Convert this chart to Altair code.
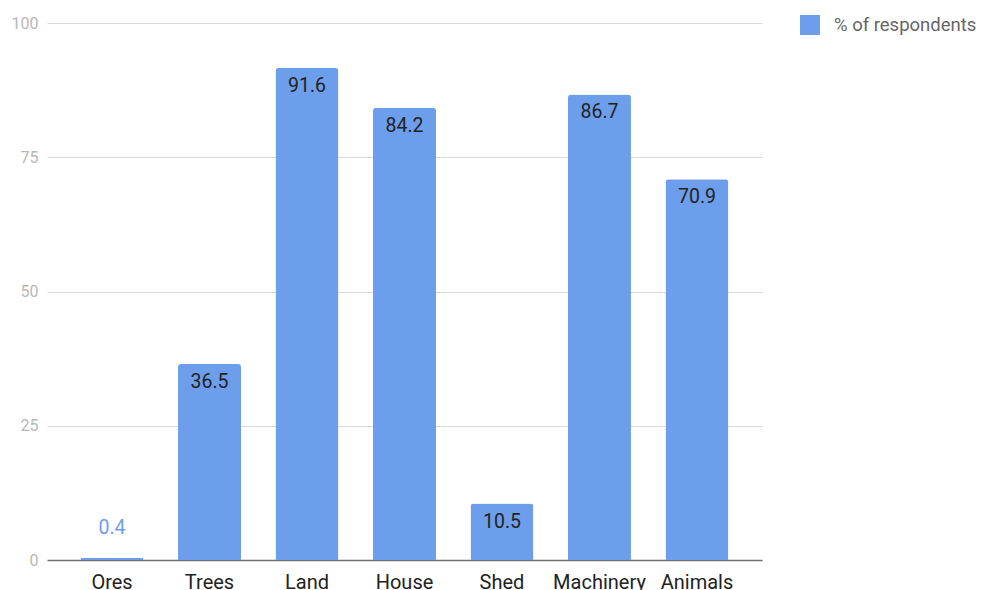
import altair as alt
import pandas as pd

# Share of respondents per item
categories = ["Ores", "Trees", "Land", "House", "Shed", "Machinery", "Animals"]
values = [0.4, 36.5, 91.6, 84.2, 10.5, 86.7, 70.9]
series_name = "% of respondents"
y_ticks = [0, 25, 50, 75, 100]

BLUE = "#6d9eeb"
FONT = "Roboto"

df = pd.DataFrame({"item": categories, "value": values, "series": series_name})

x_enc = alt.X(
    "item:N",
    sort=categories,
    title=None,
    scale=alt.Scale(paddingInner=0.354, paddingOuter=0.344),
    axis=alt.Axis(
        labelAngle=0,
        labelFontSize=20,
        labelColor="#222222",
        labelFont=FONT,
        labelPadding=12,
        ticks=False,
        domainColor="#707070",
        domainWidth=1.6,
        grid=False,
    ),
)
y_enc = alt.Y(
    "value:Q",
    title=None,
    scale=alt.Scale(domain=[0, 100], nice=False),
    axis=alt.Axis(
        values=y_ticks,
        labelFontSize=16,
        labelColor="#b7b7b7",
        labelFont=FONT,
        labelPadding=9,
        ticks=False,
        domain=False,
        gridColor="#d9d9d9",
        gridWidth=1.2,
    ),
)

base = alt.Chart(df)

bars = base.mark_bar(cornerRadiusTopLeft=3, cornerRadiusTopRight=3).encode(
    x=x_enc,
    y=y_enc,
    color=alt.Color(
        "series:N",
        scale=alt.Scale(domain=[series_name], range=[BLUE]),
        legend=alt.Legend(
            title=None,
            orient="none",
            legendX=753,
            legendY=-8,
            padding=0,
            symbolType="square",
            symbolSize=400,
            symbolStrokeWidth=0,
            symbolOpacity=1,
            labelFont=FONT,
            labelFontSize=18.5,
            labelColor="#666666",
            labelOffset=14,
        ),
    ),
)

# Labels inside the taller bars
inside = base.transform_filter("datum.value >= 5").mark_text(
    baseline="middle", dy=18, fontSize=19.5, font=FONT, color="#222222"
).encode(
    x=alt.X("item:N", sort=categories),
    y="value:Q",
    text=alt.Text("value:Q", format=".1f"),
)

# Labels above bars too short to hold them
outside = base.transform_filter("datum.value < 5").mark_text(
    baseline="middle", dy=-30, fontSize=19.5, font=FONT, color=BLUE
).encode(
    x=alt.X("item:N", sort=categories),
    y="value:Q",
    text=alt.Text("value:Q", format=".1f"),
)

chart = (
    alt.layer(bars, inside, outside)
    .properties(
        width=715,
        height=537,
        autosize=alt.AutoSizeParams(type="none"),
        padding={"left": 47, "top": 23, "right": 220, "bottom": 30},
    )
    .configure(font=FONT, background="white")
    .configure_view(stroke=None)
)

chart.save("out.html", embed_options={"renderer": "svg", "actions": False})
